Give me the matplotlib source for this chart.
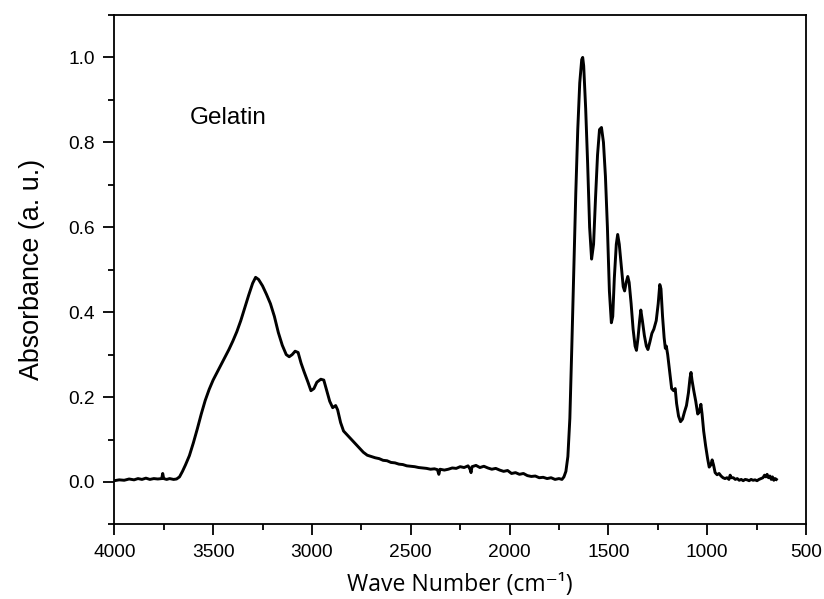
import numpy as np
import matplotlib
matplotlib.use("Agg")
import matplotlib.pyplot as plt
from matplotlib.ticker import MultipleLocator

# gelatin FTIR spectrum (wavenumber in cm^-1, absorbance)
wavenumber = [
    4000, 3975, 3950, 3925, 3900, 3880, 3860, 3840, 3820, 3800, 3780, 3760, 3755, 3750,
    3735, 3720, 3700, 3685, 3670, 3655, 3640, 3620, 3600, 3580, 3560, 3540, 3520, 3500,
    3480, 3460, 3440, 3420, 3400, 3380, 3360, 3340, 3320, 3300, 3285, 3270, 3250, 3230,
    3210, 3190, 3170, 3150, 3130, 3115, 3100, 3085, 3070, 3055, 3040, 3020, 3005, 2990,
    2975, 2955, 2940, 2925, 2910, 2895, 2880, 2870, 2855, 2840, 2820, 2800, 2780, 2760,
    2740, 2720, 2700, 2680, 2660, 2640, 2620, 2600, 2580, 2560, 2540, 2520, 2500, 2480,
    2460, 2440, 2420, 2400, 2380, 2365, 2358, 2352, 2330, 2310, 2290, 2270, 2250, 2230,
    2210, 2200, 2195, 2190, 2170, 2150, 2130, 2110, 2090, 2070, 2050, 2030, 2010, 1990,
    1970, 1950, 1930, 1910, 1890, 1870, 1850, 1830, 1810, 1790, 1770, 1750, 1735, 1725,
    1715, 1705, 1695, 1685, 1675, 1665, 1655, 1645, 1635, 1630, 1625, 1615, 1605, 1595,
    1585, 1575, 1565, 1555, 1545, 1535, 1525, 1515, 1505, 1495, 1485, 1478, 1470, 1460,
    1453, 1445, 1435, 1425, 1418, 1410, 1402, 1395, 1385, 1375, 1365, 1358, 1350, 1342,
    1336, 1328, 1318, 1308, 1300, 1290, 1280, 1270, 1258, 1248, 1240, 1234, 1226, 1218,
    1212, 1207, 1200, 1190, 1180, 1170, 1162, 1155, 1145, 1135, 1125, 1115, 1105, 1095,
    1087, 1082, 1077, 1068, 1058, 1048, 1040, 1032, 1026, 1018, 1008, 998, 990, 982,
    975, 968, 960, 950, 940, 930, 920, 910, 900, 890, 884, 878, 868, 858,
    848, 838, 828, 818, 808, 798, 788, 778, 768, 758, 748, 738, 728, 718,
    710, 703, 697, 690, 683, 676, 670, 663, 656, 650,
]
absorbance = [
    0.003, 0.005, 0.004, 0.007, 0.005, 0.008, 0.006, 0.009, 0.006, 0.008, 0.007, 0.008, 0.020, 0.008,
    0.006, 0.008, 0.006, 0.007, 0.012, 0.025, 0.040, 0.062, 0.092, 0.125, 0.160, 0.192, 0.218, 0.240,
    0.258, 0.276, 0.294, 0.312, 0.332, 0.354, 0.380, 0.410, 0.440, 0.468, 0.482, 0.477, 0.462, 0.442,
    0.420, 0.390, 0.352, 0.322, 0.300, 0.295, 0.300, 0.308, 0.305, 0.280, 0.260, 0.235, 0.215, 0.220,
    0.235, 0.242, 0.240, 0.215, 0.190, 0.175, 0.180, 0.170, 0.140, 0.120, 0.110, 0.100, 0.090, 0.080,
    0.070, 0.063, 0.060, 0.057, 0.055, 0.051, 0.050, 0.046, 0.045, 0.042, 0.041, 0.038, 0.037, 0.036,
    0.034, 0.033, 0.032, 0.030, 0.031, 0.029, 0.018, 0.030, 0.028, 0.030, 0.033, 0.032, 0.036, 0.034,
    0.038, 0.030, 0.022, 0.036, 0.039, 0.034, 0.037, 0.033, 0.030, 0.032, 0.028, 0.025, 0.027, 0.020,
    0.022, 0.018, 0.020, 0.015, 0.013, 0.014, 0.010, 0.011, 0.008, 0.010, 0.006, 0.008, 0.006, 0.012,
    0.025, 0.060, 0.150, 0.320, 0.500, 0.680, 0.830, 0.940, 0.995, 1.000, 0.980, 0.880, 0.750, 0.600,
    0.525, 0.560, 0.670, 0.770, 0.830, 0.835, 0.800, 0.720, 0.600, 0.450, 0.375, 0.390, 0.480, 0.560,
    0.583, 0.560, 0.510, 0.460, 0.450, 0.470, 0.484, 0.470, 0.420, 0.360, 0.320, 0.310, 0.340, 0.380,
    0.405, 0.380, 0.345, 0.320, 0.312, 0.330, 0.350, 0.360, 0.380, 0.420, 0.465, 0.455, 0.390, 0.340,
    0.315, 0.320, 0.300, 0.260, 0.220, 0.215, 0.220, 0.185, 0.155, 0.142, 0.148, 0.165, 0.180, 0.210,
    0.245, 0.258, 0.240, 0.215, 0.190, 0.160, 0.165, 0.183, 0.160, 0.120, 0.085, 0.055, 0.035, 0.040,
    0.052, 0.040, 0.022, 0.017, 0.020, 0.014, 0.010, 0.008, 0.010, 0.006, 0.016, 0.010, 0.010, 0.006,
    0.008, 0.004, 0.006, 0.003, 0.006, 0.005, 0.003, 0.006, 0.004, 0.005, 0.003, 0.006, 0.008, 0.010,
    0.016, 0.012, 0.018, 0.010, 0.014, 0.006, 0.012, 0.004, 0.008, 0.006,
]

plt.rcParams["font.family"] = ["Liberation Sans", "DejaVu Sans"]

fig = plt.figure(figsize=(8.24, 5.99), dpi=100)
ax = fig.add_axes([0.1387, 0.1245, 0.8395, 0.8505])

ax.plot(wavenumber, absorbance, color="black", lw=2.1)

ax.set_xlim(4000, 500)
ax.set_ylim(-0.1, 1.1)
ax.xaxis.set_major_locator(MultipleLocator(500))
ax.xaxis.set_minor_locator(MultipleLocator(250))
ax.yaxis.set_minor_locator(MultipleLocator(0.1))
ax.set_yticks([0.0, 0.2, 0.4, 0.6, 0.8, 1.0])
ax.yaxis.set_major_formatter(matplotlib.ticker.FormatStrFormatter("%.1f"))

ax.tick_params(which="major", direction="out", length=8, width=1.3, labelsize=13.8, pad=6)
ax.tick_params(which="minor", direction="out", length=4, width=1.3)
for s in ax.spines.values():
    s.set_linewidth(1.3)

ax.text(3617, 0.858, "Gelatin", fontsize=17.5, ha="left", va="center")

ax.set_xlabel("Wave Number (cm\u207b\u00b9)", fontsize=16.6,
              family=["Open Sans", "DejaVu Sans"], labelpad=9)
ax.set_ylabel("Absorbance (a. u.)", fontsize=19.4, labelpad=17)

fig.savefig("out.png", dpi=100)
